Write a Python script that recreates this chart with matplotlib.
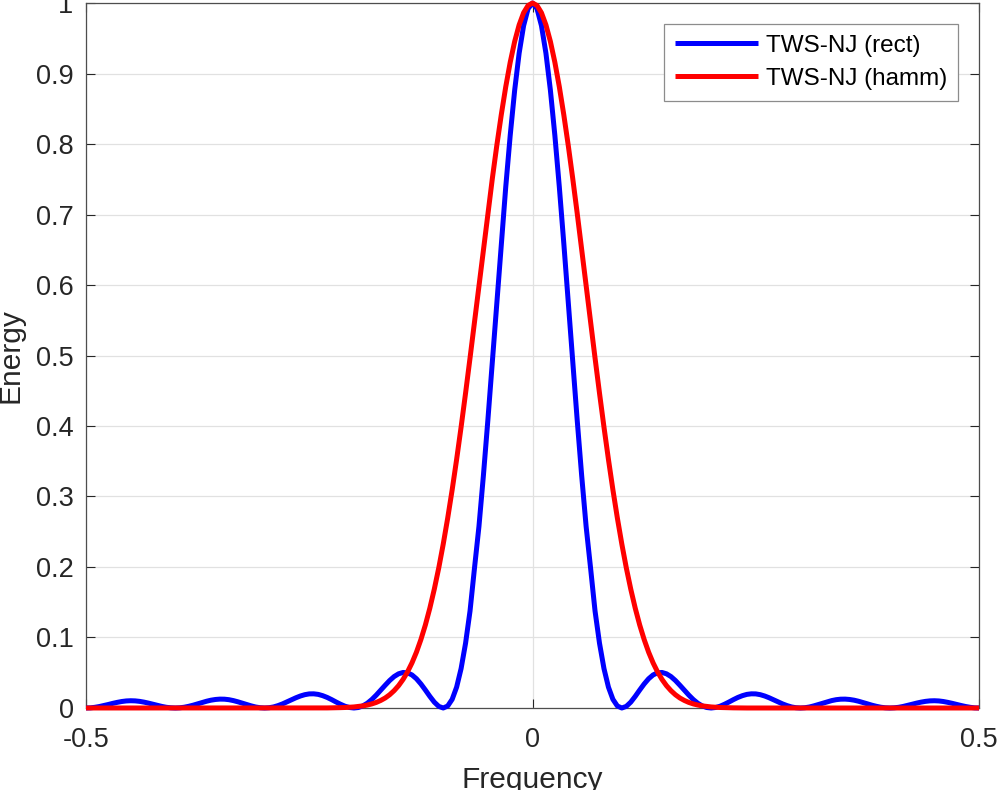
import numpy as np
import matplotlib
matplotlib.use('Agg')
import matplotlib.pyplot as plt

plt.rcParams['font.family'] = ['Liberation Sans', 'DejaVu Sans']

# frequency samples, -0.5 .. 0.5 in steps of 0.005
freq = np.linspace(-0.5, 0.5, 201)

# energy (rectangular window)
energy_rect = [
    0.0,
    0.0002, 0.0010, 0.0021, 0.0035, 0.0050, 0.0066, 0.0080, 0.0092, 0.0100, 0.0103,
    0.0101, 0.0094, 0.0083, 0.0069, 0.0053, 0.0037, 0.0022, 0.0010, 0.0003, 0.0,
    0.0003, 0.0011, 0.0024, 0.0040, 0.0059, 0.0078, 0.0096, 0.0111, 0.0121, 0.0126,
    0.0125, 0.0118, 0.0105, 0.0088, 0.0069, 0.0049, 0.0030, 0.0014, 0.0004, 0.0,
    0.0004, 0.0015, 0.0034, 0.0058, 0.0087, 0.0116, 0.0145, 0.0170, 0.0189, 0.0200,
    0.0201, 0.0193, 0.0175, 0.0150, 0.0119, 0.0085, 0.0053, 0.0025, 0.0007, 0.0,
    0.0007, 0.0030, 0.0068, 0.0120, 0.0183, 0.0253, 0.0323, 0.0390, 0.0446, 0.0485,
    0.0504, 0.0499, 0.0469, 0.0415, 0.0341, 0.0255, 0.0165, 0.0083, 0.0023, 0.0,
    0.0028, 0.0123, 0.0296, 0.0559, 0.0918, 0.1375, 0.1984, 0.2576, 0.3300, 0.4086,
    0.4915, 0.5758, 0.6593, 0.7390, 0.8122, 0.8763, 0.9288, 0.9678, 0.9919,
    1.0,
    0.9919, 0.9678, 0.9288, 0.8763, 0.8122, 0.7390, 0.6593, 0.5758, 0.4915,
    0.4086, 0.3300, 0.2576, 0.1984, 0.1375, 0.0918, 0.0559, 0.0296, 0.0123, 0.0028,
    0.0, 0.0023, 0.0083, 0.0165, 0.0255, 0.0341, 0.0415, 0.0469, 0.0499, 0.0504,
    0.0485, 0.0446, 0.0390, 0.0323, 0.0253, 0.0183, 0.0120, 0.0068, 0.0030, 0.0007,
    0.0, 0.0007, 0.0025, 0.0053, 0.0085, 0.0119, 0.0150, 0.0175, 0.0193, 0.0201,
    0.0200, 0.0189, 0.0170, 0.0145, 0.0116, 0.0087, 0.0058, 0.0034, 0.0015, 0.0004,
    0.0, 0.0004, 0.0014, 0.0030, 0.0049, 0.0069, 0.0088, 0.0105, 0.0118, 0.0125,
    0.0126, 0.0121, 0.0111, 0.0096, 0.0078, 0.0059, 0.0040, 0.0024, 0.0011, 0.0003,
    0.0, 0.0003, 0.0010, 0.0022, 0.0037, 0.0053, 0.0069, 0.0083, 0.0094, 0.0101,
    0.0103, 0.0100, 0.0092, 0.0080, 0.0066, 0.0050, 0.0035, 0.0021, 0.0010, 0.0002,
    0.0,
]

# energy (hamming window)
energy_hamm = [
    0.0,
    0.0, 0.0, 0.0, 0.0, 0.0, 0.0, 0.0, 0.0, 0.0, 0.0,
    0.0, 0.0, 0.0, 0.0, 0.0, 0.0, 0.0, 0.0, 0.0, 0.0,
    0.0, 0.0, 0.0, 0.0, 0.0, 0.0, 0.0, 0.0, 0.0, 0.0,
    0.0, 0.0, 0.0, 0.0, 0.0, 0.0, 0.0, 0.0, 0.0, 0.0,
    0.0, 0.0, 0.0, 0.0, 0.0, 0.0, 0.0, 0.0, 0.0, 0.0,
    0.0, 0.0, 0.0001, 0.0001, 0.0002, 0.0003, 0.0005, 0.0007, 0.0011, 0.0015,
    0.0023, 0.0030, 0.0042, 0.0058, 0.0079, 0.0107, 0.0142, 0.0188, 0.0246, 0.0317,
    0.0405, 0.0512, 0.0640, 0.0792, 0.0971, 0.1178, 0.1416, 0.1686, 0.1988, 0.2325,
    0.2694, 0.3095, 0.3526, 0.3984, 0.4465, 0.4964, 0.5476, 0.5994, 0.6511, 0.7019,
    0.7512, 0.7980, 0.8415, 0.8811, 0.9159, 0.9454, 0.9689, 0.9861, 0.9965,
    1.0,
    0.9965, 0.9861, 0.9689, 0.9454, 0.9159, 0.8811, 0.8415, 0.7980, 0.7512,
    0.7019, 0.6511, 0.5994, 0.5476, 0.4964, 0.4465, 0.3984, 0.3526, 0.3095, 0.2694,
    0.2325, 0.1988, 0.1686, 0.1416, 0.1178, 0.0971, 0.0792, 0.0640, 0.0512, 0.0405,
    0.0317, 0.0246, 0.0188, 0.0142, 0.0107, 0.0079, 0.0058, 0.0042, 0.0030, 0.0023,
    0.0015, 0.0011, 0.0007, 0.0005, 0.0003, 0.0002, 0.0001, 0.0001, 0.0, 0.0,
    0.0, 0.0, 0.0, 0.0, 0.0, 0.0, 0.0, 0.0, 0.0, 0.0,
    0.0, 0.0, 0.0, 0.0, 0.0, 0.0, 0.0, 0.0, 0.0, 0.0,
    0.0, 0.0, 0.0, 0.0, 0.0, 0.0, 0.0, 0.0, 0.0, 0.0,
    0.0, 0.0, 0.0, 0.0, 0.0, 0.0, 0.0, 0.0, 0.0, 0.0,
    0.0, 0.0, 0.0, 0.0, 0.0, 0.0, 0.0, 0.0, 0.0, 0.0,
    0.0,
]

series_names = ['TWS-NJ (rect)', 'TWS-NJ (hamm)']
x_ticks = [-0.5, 0, 0.5]
x_tick_labels = ['-0.5', '0', '0.5']
y_ticks = [0, 0.1, 0.2, 0.3, 0.4, 0.5, 0.6, 0.7, 0.8, 0.9, 1]
y_tick_labels = ['0', '0.1', '0.2', '0.3', '0.4', '0.5', '0.6', '0.7', '0.8', '0.9', '1']

txt = '#262626'
fig = plt.figure(figsize=(9.98, 7.9), dpi=100)
ax = fig.add_axes([0.0862, 0.1038, 0.8948, 0.8924])

ax.plot(freq, energy_rect, color='#0000ff', lw=3.6, solid_capstyle='butt',
        clip_on=False, label=series_names[0], zorder=3)
ax.plot(freq, energy_hamm, color='#ff0000', lw=3.6, solid_capstyle='butt',
        clip_on=False, label=series_names[1], zorder=4)

ax.set_xlim(-0.5, 0.5)
ax.set_ylim(0, 1)
ax.set_xticks(x_ticks)
ax.set_xticklabels(x_tick_labels)
ax.set_yticks(y_ticks)
ax.set_yticklabels(y_tick_labels)
ax.tick_params(direction='in', top=True, right=True, length=6.5, width=0.8,
               color=txt, labelcolor=txt, labelsize=19.5)
ax.tick_params(axis='x', pad=14)
ax.tick_params(axis='y', pad=9)
ax.grid(True, color='#e1e1e1', lw=0.9)
ax.set_axisbelow(True)
for s in ax.spines.values():
    s.set_color('0.3')
    s.set_linewidth(0.9)

ax.set_xlabel('Frequency', fontsize=21.5, color=txt, labelpad=9)
ax.set_ylabel('Energy', fontsize=21.5, color=txt, labelpad=8)

leg = ax.legend(loc='upper right', fontsize=17.5, fancybox=False, framealpha=1,
                edgecolor='0.55', handlelength=3.4, handletextpad=0.33,
                borderaxespad=0.86, borderpad=0.45, labelspacing=0.45)
leg.get_frame().set_linewidth(0.9)
for t in leg.get_texts():
    t.set_color('black')

fig.savefig('out.png', dpi=100)
